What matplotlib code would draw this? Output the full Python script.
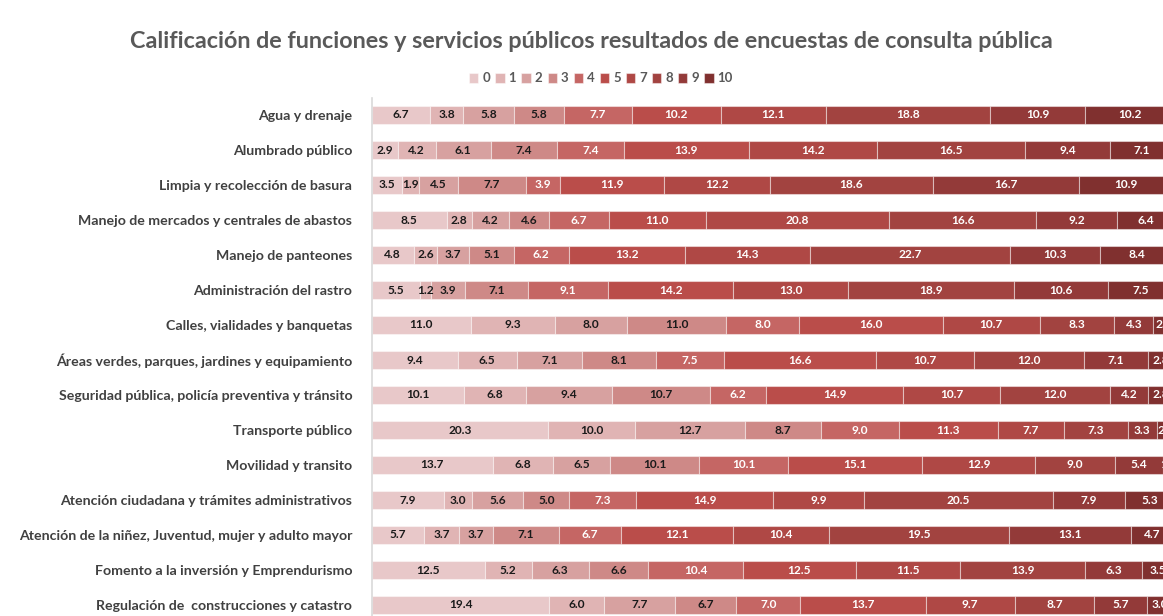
import matplotlib
matplotlib.use("Agg")
import matplotlib.pyplot as plt
import numpy as np

plt.rcParams['font.family'] = ['Lato', 'DejaVu Sans']

title = "Calificación de funciones y servicios públicos resultados de encuestas de consulta pública"

categories = [
    "Agua y drenaje",
    "Alumbrado público",
    "Limpia y recolección de basura",
    "Manejo de mercados y centrales de abastos",
    "Manejo de panteones",
    "Administración del rastro",
    "Calles, vialidades y banquetas",
    "Áreas verdes, parques, jardines y equipamiento",
    "Seguridad pública, policía preventiva y tránsito",
    "Transporte público",
    "Movilidad y transito",
    "Atención ciudadana y trámites administrativos",
    "Atención de la niñez, Juventud, mujer y adulto mayor",
    "Fomento a la inversión y Emprendurismo",
    "Regulación de  construcciones y catastro",
]

series_names = ["0", "1", "2", "3", "4", "5", "7", "8", "9", "10"]

s0  = [6.7, 2.9, 3.5, 8.5, 4.8, 5.5, 11.0, 9.4, 10.1, 20.3, 13.7, 7.9, 5.7, 12.5, 19.4]
s1  = [3.8, 4.2, 1.9, 2.8, 2.6, 1.2, 9.3, 6.5, 6.8, 10.0, 6.8, 3.0, 3.7, 5.2, 6.0]
s2  = [5.8, 6.1, 4.5, 4.2, 3.7, 3.9, 8.0, 7.1, 9.4, 12.7, 6.5, 5.6, 3.7, 6.3, 7.7]
s3  = [5.8, 7.4, 7.7, 4.6, 5.1, 7.1, 11.0, 8.1, 10.7, 8.7, 10.1, 5.0, 7.1, 6.6, 6.7]
s4  = [7.7, 7.4, 3.9, 6.7, 6.2, 9.1, 8.0, 7.5, 6.2, 9.0, 10.1, 7.3, 6.7, 10.4, 7.0]
s5  = [10.2, 13.9, 11.9, 11.0, 13.2, 14.2, 16.0, 16.6, 14.9, 11.3, 15.1, 14.9, 12.1, 12.5, 13.7]
s7  = [12.1, 14.2, 12.2, 20.8, 14.3, 13.0, 10.7, 10.7, 10.7, 7.7, 12.9, 9.9, 10.4, 11.5, 9.7]
s8  = [18.8, 16.5, 18.6, 16.6, 22.7, 18.9, 8.3, 12.0, 12.0, 7.3, 9.0, 20.5, 19.5, 13.9, 8.7]
s9  = [10.9, 9.4, 16.7, 9.2, 10.3, 10.6, 4.3, 7.1, 4.2, 3.3, 5.4, 7.9, 13.1, 6.3, 5.7]
s10 = [10.2, 7.1, 10.9, 6.4, 8.4, 7.5, 2.3, 2.8, 2.8, 2.0, 1.3, 5.3, 4.7, 3.5, 3.0]

series = [s0, s1, s2, s3, s4, s5, s7, s8, s9, s10]

colors = ["#E8C8C9", "#E0B4B4", "#D7A1A0", "#CE8987", "#C56664",
          "#BA4D4A", "#AF4845", "#A24340", "#933A39", "#80302F"]
text_colors = ["#1A1A1A"] * 4 + ["white"] * 6

data = np.array(series, dtype=float)
totals = data.sum(axis=0)
pct = data / totals * 100.0

W, H = 1163, 616
fig = plt.figure(figsize=(W / 100, H / 100), dpi=100)
ax = fig.add_axes([371.7 / W, 1 - 622.5 / H, (1174 - 371.7) / W, 525 / H])

y = np.arange(len(categories))
left = np.zeros(len(categories))
handles = []
for i, name in enumerate(series_names):
    bars = ax.barh(y, pct[i], left=left, height=0.5, color=colors[i],
                   edgecolor=(1, 1, 1, 0.45), linewidth=0.8, label=name)
    handles.append(bars)
    for j in range(len(categories)):
        cx = left[j] + pct[i][j] / 2
        ax.text(cx, y[j], f"{data[i][j]:.1f}", ha="center", va="center",
                fontsize=8.6, fontweight="bold", color=text_colors[i])
    left = left + pct[i]

ax.set_xlim(0, 100)
ax.set_ylim(len(categories) - 0.5, -0.5)
ax.set_yticks(y)
ax.set_yticklabels(categories, fontsize=10.2, fontweight="bold", color="#404040")
ax.tick_params(axis="y", length=0, pad=14)
ax.xaxis.set_visible(False)
for s in ["top", "right", "bottom"]:
    ax.spines[s].set_visible(False)
ax.spines["left"].set_color("#D9D9D9")
ax.spines["left"].set_linewidth(1.2)

fig.text(591 / W, 1 - 42 / H, title, ha="center", va="center",
         fontsize=16.8, fontweight="bold", color="#595959")

leg = fig.legend(handles=handles, labels=series_names, loc="center",
                 bbox_to_anchor=(601 / W, 1 - 78.5 / H), ncol=10, frameon=False,
                 handlelength=0.7, handleheight=0.7, handletextpad=0.3,
                 columnspacing=0.4, prop={"size": 9.5, "weight": "bold"})
for t in leg.get_texts():
    t.set_color("#595959")

fig.savefig("out.png", dpi=100)
